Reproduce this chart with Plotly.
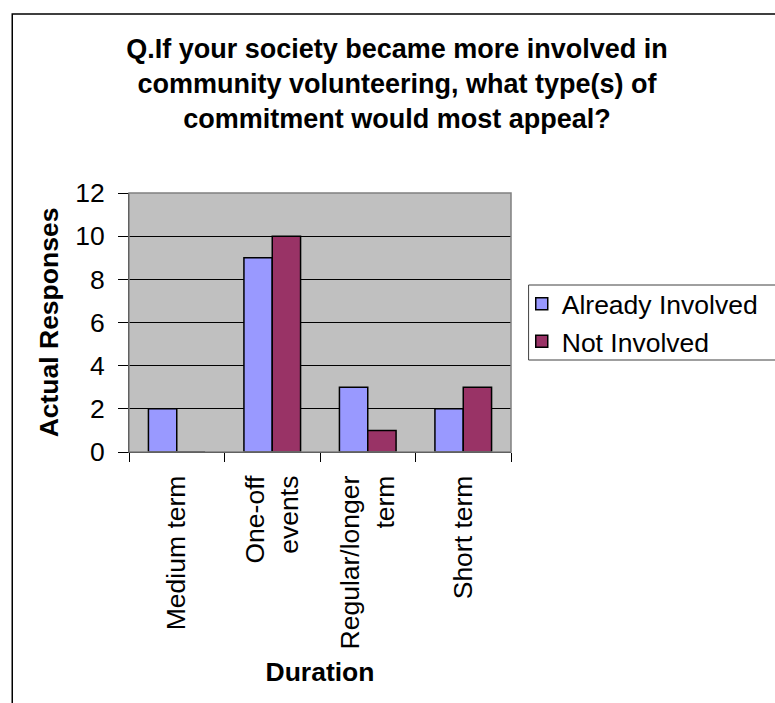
import plotly.graph_objects as go

categories = ["Medium term", "One-off<br>events", "Regular/longer<br>term", "Short term"]
already_involved = [2, 9, 3, 2]
not_involved = [0, 10, 1, 3]
y_ticks = [0, 2, 4, 6, 8, 10, 12]

W, H = 775, 703
L, R, T, B = 129, 520, 193, 452
pw, ph = R - L, B - T

def px_x(p):
    return (p - L) / pw

def px_y(p):
    return (B - p) / ph

FONT = "Liberation Sans, Arial, sans-serif"
FS = 26.5

fig = go.Figure()
fig.add_trace(go.Bar(name="Already Involved", x=categories, y=already_involved,
                     marker=dict(color="#9999FF", line=dict(color="black", width=1.5))))
fig.add_trace(go.Bar(name="Not Involved", x=categories, y=not_involved,
                     marker=dict(color="#993366", line=dict(color="black", width=1.5))))

fig.update_layout(
    width=W, height=H,
    margin=dict(l=L, r=W - R, t=T, b=H - B, pad=0),
    paper_bgcolor="white",
    plot_bgcolor="#C0C0C0",
    font=dict(family=FONT, size=FS, color="black"),
    barmode="group",
    bargap=0.407,
    bargroupgap=0,
    title=dict(
        text="<b>Q.If your society became more involved in<br>community volunteering, what type(s) of<br>commitment would most appeal?</b>",
        x=397 / W, xref="container", xanchor="center",
        y=1 - 58 / H, yref="container", yanchor="top",
        font=dict(family=FONT, size=27, color="black"),
    ),
    legend=dict(
        x=px_x(531), xanchor="left", y=px_y(280), yanchor="top",
        bgcolor="rgba(0,0,0,0)", borderwidth=0,
        font=dict(family=FONT, size=FS, color="black"),
        tracegroupgap=0,
    ),
    showlegend=True,
)

fig.update_xaxes(
    type="category",
    tickson="boundaries",
    ticks="outside", ticklen=9, tickcolor="black", tickwidth=1,
    tickangle=-90,
    showline=True, linecolor="black", linewidth=1,
    showgrid=False, zeroline=False,
    ticklabelstandoff=12,
    tickfont=dict(family=FONT, size=FS, color="black"),
    title=dict(text="<b>Duration</b>", font=dict(family=FONT, size=FS, color="black"), standoff=14),
)
fig.update_yaxes(
    range=[0, 12], tickvals=y_ticks, ticktext=[str(v) for v in y_ticks],
    ticks="outside", ticklen=10, tickcolor="black", tickwidth=1,
    showline=True, linecolor="black", linewidth=1,
    showgrid=True, gridcolor="black", gridwidth=1,
    zeroline=False,
    ticklabelstandoff=8,
    tickfont=dict(family=FONT, size=FS, color="black"),
    title=dict(text="<b>Actual Responses</b>", font=dict(family=FONT, size=FS, color="black"), standoff=8),
)

# plot area border (top/right gray)
fig.add_shape(type="rect", xref="paper", yref="paper", x0=0, x1=1, y0=0, y1=1,
              line=dict(color="#808080", width=1.5), fillcolor="rgba(0,0,0,0)", layer="above")
# legend frame
fig.add_shape(type="rect", xref="paper", yref="paper",
              x0=px_x(538), x1=px_x(800), y0=px_y(360), y1=px_y(285),
              line=dict(color="#404040", width=1), fillcolor="rgba(0,0,0,0)", layer="above")
# chart area frame
fig.add_shape(type="rect", xref="paper", yref="paper",
              x0=px_x(9.5), x1=px_x(800), y0=px_y(720), y1=px_y(14),
              line=dict(color="black", width=1.5), fillcolor="rgba(0,0,0,0)", layer="above")

fig.write_html("out.html")
